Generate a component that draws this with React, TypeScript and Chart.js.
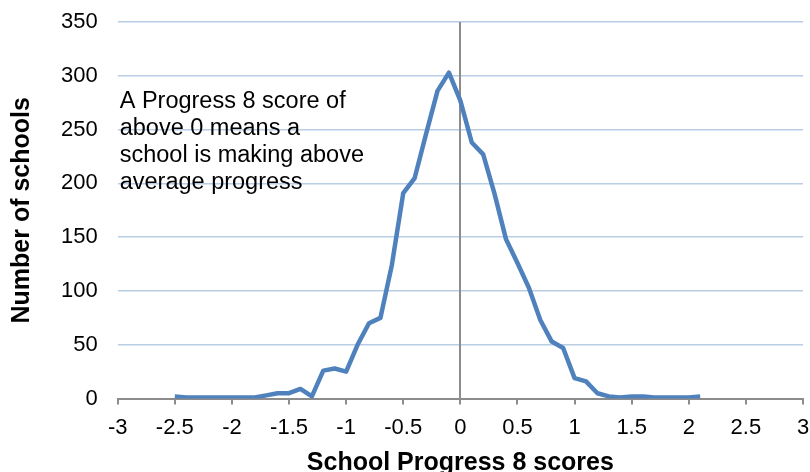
import React, { useEffect, useRef } from "react";
import { Chart, registerables } from "chart.js";

Chart.register(...registerables);

const scores = [
  -2.5, -2.4, -2.3, -2.2, -2.1, -2.0, -1.9, -1.8, -1.7, -1.6, -1.5, -1.4, -1.3, -1.2, -1.1, -1.0,
  -0.9, -0.8, -0.7, -0.6, -0.5, -0.4, -0.3, -0.2, -0.1, 0.0, 0.1, 0.2, 0.3, 0.4, 0.5, 0.6, 0.7,
  0.8, 0.9, 1.0, 1.1, 1.2, 1.3, 1.4, 1.5, 1.6, 1.7, 1.8, 1.9, 2.0, 2.1,
];
const schools = [
  2, 1, 1, 1, 1, 1, 1, 1, 3, 5, 5, 9, 2, 26, 28, 25,
  50, 70, 75, 124, 191, 205, 246, 286, 303, 277, 238, 227, 190, 148, 126, 103, 73,
  53, 47, 19, 16, 5, 2, 1, 2, 2, 1, 1, 1, 1, 2,
];
const xTitle = "School Progress 8 scores";
const yTitle = "Number of schools";
const noteLines = [
  "A Progress 8 score of",
  "above 0 means a",
  "school is making above",
  "average progress",
];

const FONT = "'Liberation Sans', Arial, sans-serif";

export default function App() {
  const ref = useRef<HTMLCanvasElement>(null);
  useEffect(() => {
    document.body.style.margin = "0";
    const canvas = ref.current!;
    const zeroLine = {
      id: "zeroLine",
      beforeDatasetsDraw(chart: any) {
        const { ctx, chartArea, scales } = chart;
        const x = Math.round(scales.x.getPixelForValue(0));
        ctx.save();
        ctx.strokeStyle = "#8c8c8c";
        ctx.lineWidth = 2;
        ctx.beginPath();
        ctx.moveTo(x, chartArea.top);
        ctx.lineTo(x, chartArea.bottom);
        ctx.stroke();
        ctx.restore();
      },
    };
    const note = {
      id: "note",
      afterDraw(chart: any) {
        const { ctx, chartArea } = chart;
        ctx.save();
        ctx.fillStyle = "#000";
        ctx.font = `23.5px ${FONT}`;
        ctx.textBaseline = "alphabetic";
        noteLines.forEach((l, i) => {
          ctx.fillText(l, chartArea.left + 2, chartArea.top + 86 + i * 27);
        });
        ctx.restore();
      },
    };
    const chart = new Chart(canvas, {
      type: "line",
      data: {
        datasets: [
          {
            data: scores.map((s, i) => ({ x: s, y: schools[i] })),
            borderColor: "#4f81bd",
            borderWidth: 4.5,
            pointRadius: 0,
            tension: 0,
            fill: false,
            borderJoinStyle: "round",
          },
        ],
      },
      options: {
        animation: false,
        responsive: false,
        maintainAspectRatio: false,
        layout: { padding: { left: 0, right: 7, top: 22, bottom: -4 } },
        plugins: { legend: { display: false }, tooltip: { enabled: false } },
        scales: {
          x: {
            type: "linear",
            min: -3,
            max: 3,
            afterFit: (s: any) => {
              s.paddingLeft = 0;
              s.paddingRight = 0;
            },
            ticks: {
              stepSize: 0.5,
              color: "#000",
              font: { family: FONT, size: 22 },
              padding: 10,
              maxRotation: 0,
              callback: (v: any) => String(Math.round(Number(v) * 10) / 10),
            },
            grid: {
              drawOnChartArea: false,
              drawTicks: true,
              tickLength: 6,
              color: "#8c8c8c",
              lineWidth: 2,
            },
            border: { display: true, color: "#8c8c8c", width: 2 },
            title: {
              display: true,
              text: xTitle,
              color: "#000",
              font: { family: FONT, size: 25, weight: "bold", lineHeight: 1 },
              padding: { top: 0, bottom: 0 },
            },
          },
          y: {
            min: 0,
            max: 350,
            afterFit: (s: any) => {
              s.paddingTop = 0;
              s.paddingBottom = 0;
            },
            ticks: {
              stepSize: 50,
              color: "#000",
              font: { family: FONT, size: 22 },
              padding: 20,
            },
            grid: { color: "#b9cde5", lineWidth: 1.5, drawTicks: false },
            border: { display: false },
            title: {
              display: true,
              text: yTitle,
              color: "#000",
              font: { family: FONT, size: 25, weight: "bold", lineHeight: 1 },
              padding: { top: 10, bottom: 6 },
            },
          },
        },
      },
      plugins: [zeroLine, note],
    });
    return () => chart.destroy();
  }, []);
  return (
    <div style={{ width: 810, height: 472 }}>
      <canvas ref={ref} width={810} height={472} />
    </div>
  );
}
